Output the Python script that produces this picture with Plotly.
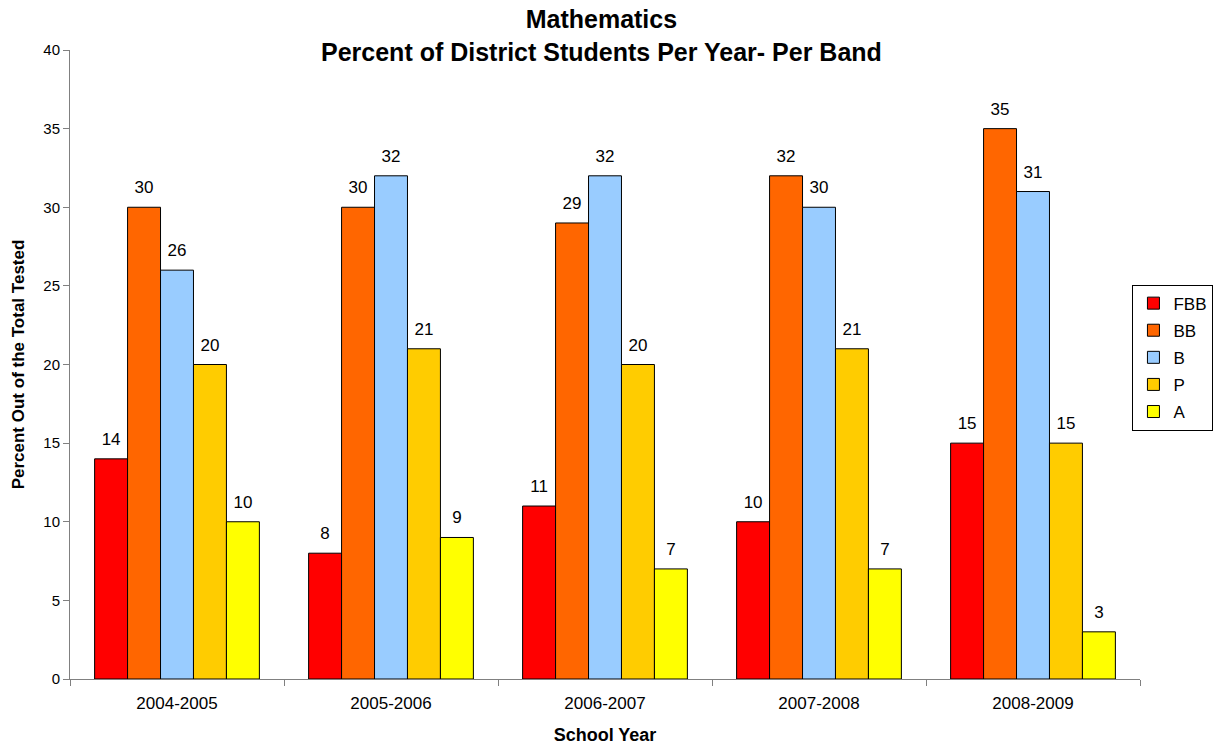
import plotly.graph_objects as go

years = ["2004-2005", "2005-2006", "2006-2007", "2007-2008", "2008-2009"]
series_names = ["FBB", "BB", "B", "P", "A"]
fbb = [14, 8, 11, 10, 15]
bb = [30, 30, 29, 32, 35]
b = [26, 32, 32, 30, 31]
p = [20, 21, 20, 21, 15]
a = [10, 9, 7, 7, 3]
colors = ["#FF0000", "#FF6600", "#99CCFF", "#FFCC00", "#FFFF00"]

FONT = "Liberation Sans, Arial, sans-serif"
BARGAP = 0.23
n_series = len(series_names)
bar_w = (1 - BARGAP) / n_series

fig = go.Figure()
all_vals = [fbb, bb, b, p, a]
for j, (name, vals, col) in enumerate(zip(series_names, all_vals, colors)):
    fig.add_trace(go.Bar(
        x=years, y=vals, name=name, legendgroup=name,
        marker=dict(color=col, line=dict(color="black", width=1)),
        hoverinfo="x+y+name",
    ))
# value labels: text positioned over each bar on an overlaid numeric axis
for j, (name, vals) in enumerate(zip(series_names, all_vals)):
    off = -(1 - BARGAP) / 2 + bar_w * (j + 0.5)
    fig.add_trace(go.Scatter(
        x=[i + off for i in range(len(years))], y=vals,
        xaxis="x2", mode="markers+text",
        marker=dict(size=14, opacity=0),
        text=[str(v) for v in vals], textposition="top center",
        textfont=dict(size=17, color="black", family=FONT),
        showlegend=False, hoverinfo="skip", cliponaxis=False,
    ))

fig.update_layout(
    width=1219, height=747,
    barmode="group", bargap=BARGAP, bargroupgap=0,
    plot_bgcolor="white", paper_bgcolor="white",
    margin=dict(l=70, r=79, t=50, b=68, autoexpand=False),
    font=dict(family=FONT, size=16, color="black"),
    legend=dict(
        xref="container", yref="paper",
        x=0.929, xanchor="left", y=0.511, yanchor="middle",
        bordercolor="black", borderwidth=1,
        font=dict(size=17, family=FONT),
        traceorder="grouped", tracegroupgap=2, itemwidth=30,
    ),
    showlegend=True,
    xaxis2=dict(overlaying="x", range=[-0.5, len(years) - 0.5], visible=False),
    annotations=[dict(
        text="<b>Mathematics<br>Percent of District Students Per Year- Per Band</b>",
        xref="paper", yref="paper", x=0.497, y=1.074, xanchor="center", yanchor="top",
        showarrow=False, font=dict(size=25, family=FONT, color="black"),
    )],
)
fig.update_layout(xaxis=dict(
    range=[-0.5, len(years) - 0.5],
    showline=True, linecolor="#808080", linewidth=1,
    ticks="outside", tickson="boundaries", ticklen=6, tickcolor="#808080",
    showgrid=False, ticklabelstandoff=9,
    title=dict(text="<b>School Year</b>", font=dict(size=18, family=FONT), standoff=15),
    tickfont=dict(size=17, family=FONT),
))
fig.update_yaxes(
    range=[0, 40], dtick=5,
    showline=True, linecolor="#808080", linewidth=1,
    ticks="outside", ticklen=6, tickcolor="#808080",
    showgrid=False, zeroline=False,
    title=dict(text="<b>Percent Out of the Total Tested</b>", font=dict(size=17, family=FONT), standoff=14),
    tickfont=dict(size=15, family=FONT),
)

fig.write_html("out.html")
